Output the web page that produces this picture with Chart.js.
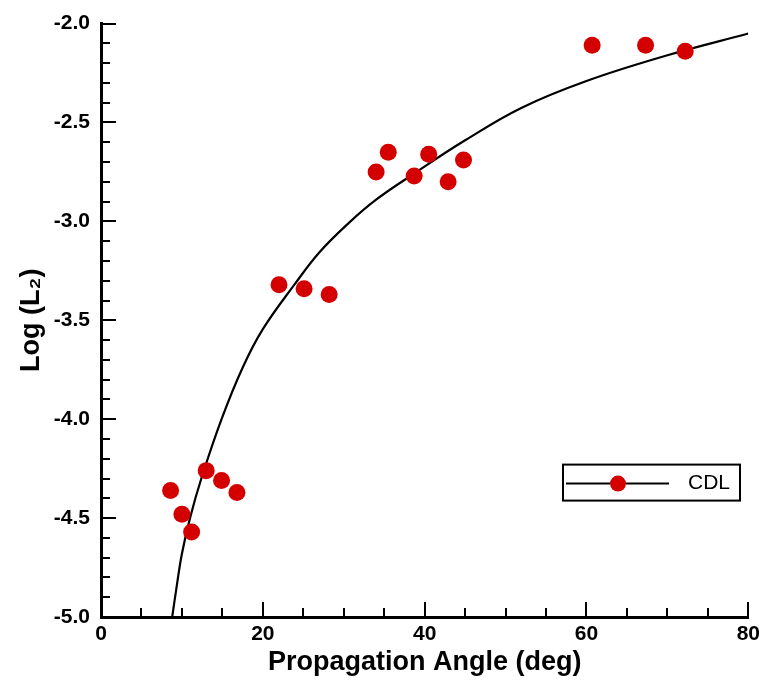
<!DOCTYPE html>
<html>
<head>
<meta charset="utf-8">
<script src="https://cdn.jsdelivr.net/npm/chart.js@4.4.1/dist/chart.umd.min.js"></script>
<style>
html,body{margin:0;padding:0;background:#fff;}
#wrap{width:765px;height:689px;}
</style>
</head>
<body>
<div id="wrap"><canvas id="c" width="765" height="689"></canvas></div>
<script>
// Measured data points (CDL)
const pointAngles = [8.6, 10.0, 11.2, 13.0, 14.9, 16.8, 22.0, 25.1, 28.2, 34.0, 35.5, 38.7, 40.5, 42.9, 44.8, 60.7, 67.3, 72.2];
const pointLogL2 = [-4.36, -4.48, -4.57, -4.26, -4.31, -4.37, -3.32, -3.34, -3.37, -2.75, -2.65, -2.77, -2.66, -2.80, -2.69, -2.11, -2.11, -2.14];

// Fitted curve
const curveAngles = [8.8, 9.3, 10.0, 11.0, 12.4, 14.9, 17.5, 20.0, 23.9, 27.0, 30.7, 34.0, 38.7, 45.0, 52.0, 60.0, 70.0, 80.0];
const curveLogL2 = [-5.00, -4.86, -4.68, -4.50, -4.30, -4.00, -3.74, -3.545, -3.32, -3.156, -3.005, -2.89, -2.758, -2.59, -2.425, -2.29, -2.16, -2.05];

const xTicks = [0, 20, 40, 60, 80];
const yTicks = [-5.0, -4.5, -4.0, -3.5, -3.0, -2.5, -2.0];
const seriesLabel = 'CDL';

const RED = '#d40000';
const FONT = "'Liberation Sans', Arial, Helvetica, sans-serif";

const pts = pointAngles.map((x, i) => ({x: x, y: pointLogL2[i]}));
const curve = curveAngles.map((x, i) => ({x: x, y: curveLogL2[i]}));

const innerTicks = {
  id: 'innerTicks',
  afterDatasetsDraw(chart) {
    const {ctx, chartArea: a, scales: {x, y}} = chart;
    ctx.save();
    ctx.strokeStyle = '#000';
    ctx.lineWidth = 2;
    ctx.beginPath();
    for (let v = 0; v <= 80; v += 5) {
      const px = Math.round(x.getPixelForValue(v));
      const len = (v % 20 === 0) ? 15 : 9;
      ctx.moveTo(px, a.bottom);
      ctx.lineTo(px, a.bottom - len);
    }
    for (let k = 0; k <= 30; k++) {
      const v = -5 + k * 0.1;
      const py = Math.round(y.getPixelForValue(v));
      const len = (k % 5 === 0) ? 15 : 9;
      ctx.moveTo(a.left, py);
      ctx.lineTo(a.left + len, py);
    }
    ctx.stroke();
    ctx.restore();
  },
  afterDraw(chart) {
    const {ctx, chartArea: a} = chart;
    // legend box
    const bx = a.left + 462, by = a.top + 441, bw = 177, bh = 36;
    ctx.save();
    ctx.fillStyle = '#fff';
    ctx.fillRect(bx, by, bw, bh);
    ctx.strokeStyle = '#000';
    ctx.lineWidth = 2;
    ctx.strokeRect(bx, by, bw, bh);
    const ly = by + bh / 2 + 1;
    ctx.beginPath();
    ctx.moveTo(bx + 3, ly);
    ctx.lineTo(bx + 106, ly);
    ctx.stroke();
    ctx.fillStyle = RED;
    ctx.beginPath();
    ctx.arc(bx + 55, ly, 8, 0, Math.PI * 2);
    ctx.fill();
    ctx.fillStyle = '#000';
    ctx.font = '21px ' + FONT;
    ctx.textBaseline = 'middle';
    ctx.textAlign = 'left';
    ctx.fillText(seriesLabel, bx + 125, ly);
    ctx.restore();
  }
};

new Chart(document.getElementById('c'), {
  data: {
    datasets: [
      {
        type: 'scatter',
        label: seriesLabel,
        data: pts,
        pointRadius: 8.5,
        pointHoverRadius: 8.5,
        pointBackgroundColor: RED,
        pointBorderColor: RED,
        pointBorderWidth: 0,
        showLine: false
      },
      {
        type: 'line',
        label: 'fit',
        data: curve,
        borderColor: '#000',
        borderWidth: 2.2,
        pointRadius: 0,
        fill: false,
        tension: 0.4
      }
    ]
  },
  options: {
    responsive: false,
    devicePixelRatio: 1,
    animation: false,
    events: [],
    layout: {padding: {top: 20, right: 16, left: 0, bottom: 0}},
    plugins: {legend: {display: false}, tooltip: {enabled: false}},
    scales: {
      x: {
        type: 'linear',
        min: 0, max: 80,
        afterBuildTicks(s) { s.ticks = xTicks.map(v => ({value: v})); },
        afterFit(s) { s.height = 72; },
        grid: {display: false, drawTicks: false},
        border: {display: true, color: '#000', width: 3},
        ticks: {color: '#000', font: {family: FONT, size: 21, weight: 'bold'}, padding: 5, maxRotation: 0,
          callback: v => String(v)},
        title: {display: true, text: 'Propagation Angle (deg)', color: '#000',
          font: {family: FONT, size: 27, weight: 'bold'}, padding: {top: 0, bottom: 10}}
      },
      y: {
        type: 'linear',
        min: -5, max: -2,
        afterBuildTicks(s) { s.ticks = yTicks.map(v => ({value: v})); },
        afterFit(s) { s.width = 101; },
        grid: {display: false, drawTicks: false},
        border: {display: true, color: '#000', width: 3},
        ticks: {color: '#000', font: {family: FONT, size: 21, weight: 'bold'}, padding: 11,
          callback: v => Number(v).toFixed(1)},
        title: {display: true, text: 'Log (L\u2082)', color: '#000',
          font: {family: FONT, size: 27, weight: 'bold'}, padding: {top: 15, bottom: 0}}
      }
    }
  },
  plugins: [innerTicks]
});
</script>
</body>
</html>
